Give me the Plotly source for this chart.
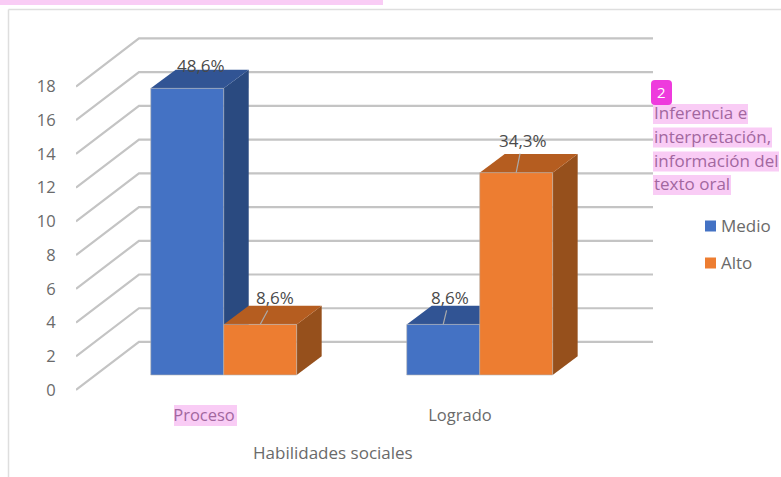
import plotly.graph_objects as go

W, H = 781, 477

# ---- data ----
categories = ["Proceso", "Logrado"]
medio = [17, 3]
alto = [3, 12]
medio_labels = ["48,6%", "8,6%"]
alto_labels = ["8,6%", "34,3%"]
y_ticks = [0, 2, 4, 6, 8, 10, 12, 14, 16, 18]
side_note = ["Inferencia e", "interpretación,", "información del", "texto oral"]
series_names = ["Medio", "Alto"]

# ---- pseudo-3D geometry, in axis units ----
BAR_W = 0.285
WALL_DX, WALL_DY = 0.246, 2.85
BAR_DX, BAR_DY = 0.0977, 1.11
FLOOR_X, FLOOR_Y = 0.077, 0.89
X0, X1 = -0.5, 1.754
Y0, Y1 = -0.3, 21.0

# pixel helpers for page furniture
def px(x):
    return x / W
def py(y):
    return 1 - y / H

TXT = "Open Sans"
GREY = "#6a6a6a"
PINK = "#f9ccf5"
PINKTXT = "#a2679f"
GRID = "#c4c4c4"
BLUE = "#4472c4"
ORANGE = "#ed7d31"

fig = go.Figure()

# gridlines: left wall diagonal + back wall
for v in y_ticks:
    fig.add_trace(go.Scatter(
        x=[X0, X0 + WALL_DX, X1], y=[v, v + WALL_DY, v + WALL_DY],
        mode="lines", line=dict(color=GRID, width=2.2),
        hoverinfo="skip", showlegend=False, cliponaxis=False, zorder=0))

def faces(vals, start, side_col, top_col, z):
    for cat, v in enumerate(vals):
        xl = cat + FLOOR_X + start
        xr = xl + BAR_W
        b = FLOOR_Y
        t = FLOOR_Y + v
        fig.add_trace(go.Scatter(
            x=[xr, xr + BAR_DX, xr + BAR_DX, xr, xr],
            y=[b, b + BAR_DY, t + BAR_DY, t, b],
            mode="lines", fill="toself", fillcolor=side_col,
            line=dict(width=0), hoverinfo="skip", showlegend=False, zorder=z))
        fig.add_trace(go.Scatter(
            x=[xl, xr, xr + BAR_DX, xl + BAR_DX, xl],
            y=[t, t, t + BAR_DY, t + BAR_DY, t],
            mode="lines", fill="toself", fillcolor=top_col,
            line=dict(width=0), hoverinfo="skip", showlegend=False, zorder=z))

faces(medio, -BAR_W, "#2a4a80", "#315494", 1)
fig.add_trace(go.Bar(
    x=[c + FLOOR_X for c in range(len(categories))], y=medio, base=FLOOR_Y,
    width=BAR_W, offset=-BAR_W, name=series_names[0], showlegend=False,
    marker=dict(color=BLUE, line=dict(color="#b4b4b4", width=0.6)),
    hoverinfo="skip", zorder=2))
faces(alto, 0, "#96501c", "#b55d20", 3)
fig.add_trace(go.Bar(
    x=[c + FLOOR_X for c in range(len(categories))], y=alto, base=FLOOR_Y,
    width=BAR_W, offset=0, name=series_names[1], showlegend=False,
    marker=dict(color=ORANGE, line=dict(color="#b4b4b4", width=0.6)),
    hoverinfo="skip", zorder=4))

ann = []
label_font = dict(family=TXT, size=17, color="#4a4a4a")
# data labels, placed from the bar tops
def label(xc, v, text, ox, oy, arrow=True):
    a = dict(x=xc, y=FLOOR_Y + v, xref="x", yref="y", text=text, font=label_font,
             showarrow=arrow, xanchor="center", yanchor="middle")
    if arrow:
        a.update(ax=ox, ay=oy, arrowhead=0, arrowwidth=1.2, arrowcolor="#ababab",
                 standoff=0, startstandoff=0)
    else:
        a.update(xshift=ox, yshift=-oy)
    ann.append(a)

label(0 + FLOOR_X - BAR_W / 2, medio[0], medio_labels[0], 13.5, -22.5, arrow=False)
label(1 + FLOOR_X - BAR_W / 2, medio[1], medio_labels[1], 6.5, -27)
label(0 + FLOOR_X + BAR_W / 2, alto[0], alto_labels[0], 14.5, -27)
label(1 + FLOOR_X + BAR_W / 2, alto[1], alto_labels[1], 6.5, -32)

# axis title
ann.append(dict(x=px(333), y=py(452.5), xref="paper", yref="paper", text="Habilidades sociales",
                showarrow=False, xanchor="center", yanchor="middle",
                font=dict(family=TXT, size=17, color=GREY)))

# highlighted note at right
line_y = [114, 137.5, 161.5, 185]
line_end = [748, 772, 779, 731]
shapes = []
for t, y, e in zip(side_note, line_y, line_end):
    shapes.append(dict(type="rect", xref="paper", yref="paper", x0=px(653), x1=px(e),
                       y0=py(y + 10), y1=py(y - 10), fillcolor=PINK, line=dict(width=0), layer="below"))
    ann.append(dict(x=px(652), y=py(y - 1.5), xref="paper", yref="paper", text=t, showarrow=False,
                    xanchor="left", yanchor="middle", font=dict(family=TXT, size=17, color=PINKTXT)))
ann.append(dict(x=px(661.5), y=py(91.5), xref="paper", yref="paper", text="2", showarrow=False,
                xanchor="center", yanchor="middle", font=dict(family=TXT, size=15, color="white")))

# legend keys and names
legend_y = [226, 263]
for name, y, col in zip(series_names, legend_y, [BLUE, ORANGE]):
    shapes.append(dict(type="rect", xref="paper", yref="paper", x0=px(705), x1=px(716),
                       y0=py(y + 5.5), y1=py(y - 5.5), fillcolor=col, line=dict(width=0)))
    ann.append(dict(x=px(719), y=py(y - 0.5), xref="paper", yref="paper", text=name, showarrow=False,
                    xanchor="left", yanchor="middle", font=dict(family=TXT, size=17, color=GREY)))

def rounded(x0, y0, x1, y1, r):
    X = lambda v: f"{px(v):.5f}"
    Y = lambda v: f"{py(v):.5f}"
    return (f"M {X(x0+r)} {Y(y0)} L {X(x1-r)} {Y(y0)} Q {X(x1)} {Y(y0)} {X(x1)} {Y(y0+r)} "
            f"L {X(x1)} {Y(y1-r)} Q {X(x1)} {Y(y1)} {X(x1-r)} {Y(y1)} "
            f"L {X(x0+r)} {Y(y1)} Q {X(x0)} {Y(y1)} {X(x0)} {Y(y1-r)} "
            f"L {X(x0)} {Y(y0+r)} Q {X(x0)} {Y(y0)} {X(x0+r)} {Y(y0)} Z")

shapes += [
    # chart frame
    dict(type="line", xref="paper", yref="paper", x0=px(8.5), x1=px(8.5), y0=py(9.5), y1=py(477),
         line=dict(color="#dedede", width=1.5), layer="below"),
    dict(type="line", xref="paper", yref="paper", x0=px(8.5), x1=px(781), y0=py(9.5), y1=py(9.5),
         line=dict(color="#dedede", width=1.5), layer="below"),
    # highlight strip at the top of the page and behind "Proceso"
    dict(type="rect", xref="paper", yref="paper", x0=0, x1=px(383), y0=py(5), y1=1,
         fillcolor=PINK, line=dict(width=0), layer="below"),
    dict(type="rect", xref="paper", yref="paper", x0=px(174), x1=px(237), y0=py(405), y1=py(426),
         fillcolor=PINK, line=dict(width=0), layer="below"),
    # "2" badge
    dict(type="path", xref="paper", yref="paper", path=rounded(651, 80, 672, 105, 4),
         fillcolor="#ee3bdd", line=dict(width=0), layer="below"),
]

fig.update_layout(
    width=W, height=H, margin=dict(l=0, r=0, t=0, b=0),
    paper_bgcolor="white", plot_bgcolor="rgba(0,0,0,0)",
    barmode="overlay", annotations=ann, shapes=shapes, showlegend=False,
    xaxis=dict(domain=[px(76), px(653)], range=[X0, X1], tickvals=list(range(len(categories))),
               ticktext=[f'<span style="color:{PINKTXT}">{categories[0]}</span>', categories[1]],
               automargin=False,
               showgrid=False, zeroline=False, showline=False, ticks="outside", ticklen=5,
               tickcolor="rgba(0,0,0,0)", tickfont=dict(family=TXT, size=16.5, color=GREY)),
    yaxis=dict(domain=[py(390 + 0.3 * 16.86), py(390 - 21.0 * 16.86)], range=[Y0, Y1],
               tickvals=y_ticks, automargin=False,
               showgrid=False, zeroline=False, showline=False, ticks="outside",
               ticklen=16, tickcolor="rgba(0,0,0,0)", tickfont=dict(family=TXT, size=16.5, color=GREY)),
)

fig.write_html("out.html", config={"displayModeBar": False},
               post_script="document.body.style.margin='0';document.body.style.overflow='hidden';")
